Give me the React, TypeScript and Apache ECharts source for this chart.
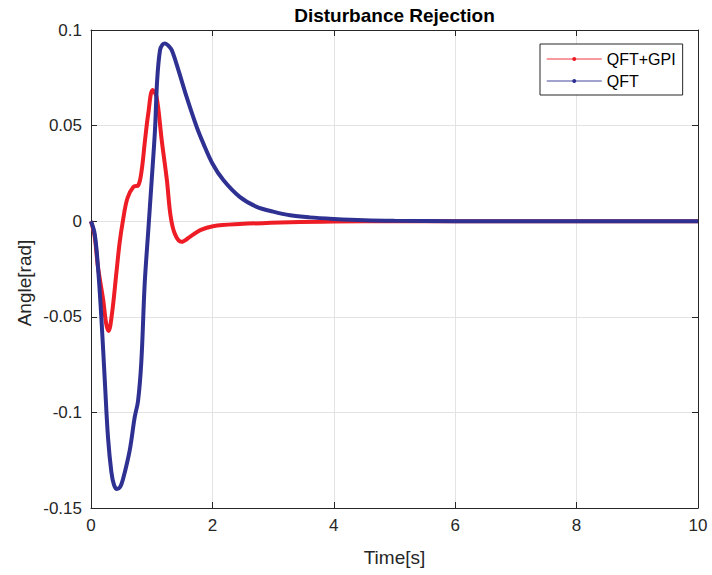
import React, { useEffect, useRef } from "react";
import * as echarts from "echarts";

const timeGPI = [0, 0.06, 0.115, 0.2, 0.25, 0.29, 0.346, 0.417, 0.47, 0.527, 0.6, 0.7, 0.78, 0.835, 0.89, 0.944, 1.015, 1.08, 1.165, 1.25, 1.31, 1.38, 1.49, 1.63, 1.8, 2.01, 2.45, 3.28, 4.0, 5.0, 10.0];
const valGPI = [0, -0.008, -0.024, -0.041, -0.0536, -0.0574, -0.0483, -0.0274, -0.0117, 0.0005, 0.012, 0.018, 0.0188, 0.0267, 0.0424, 0.0564, 0.0686, 0.065, 0.0424, 0.0215, 0.003, -0.0065, -0.0108, -0.0082, -0.0047, -0.0026, -0.0015, -0.0005, -0.0001, 0, 0];

const timeQFT = [0, 0.06, 0.115, 0.17, 0.23, 0.28, 0.335, 0.38, 0.428, 0.48, 0.527, 0.637, 0.72, 0.775, 0.83, 0.884, 0.94, 1.0, 1.054, 1.09, 1.137, 1.18, 1.22, 1.27, 1.33, 1.44, 1.575, 1.74, 1.85, 2.0, 2.18, 2.45, 2.73, 3.0, 3.28, 3.6, 4.0, 4.5, 5.0, 6.0, 10.0];
const valQFT = [0, -0.0065, -0.024, -0.05, -0.085, -0.113, -0.131, -0.138, -0.14, -0.139, -0.135, -0.12, -0.1025, -0.094, -0.073, -0.033, -0.0065, 0.0215, 0.0476, 0.0738, 0.0895, 0.0925, 0.093, 0.092, 0.0895, 0.079, 0.065, 0.0494, 0.0407, 0.0302, 0.0215, 0.0127, 0.0075, 0.005, 0.0031, 0.002, 0.0012, 0.0005, 0.0002, 0, 0];

const xTicks = [0, 2, 4, 6, 8, 10];
const yTicks = [-0.15, -0.1, -0.05, 0, 0.05, 0.1];

const seriesNames = ["QFT+GPI", "QFT"];
const seriesColors = ["#ee1c25", "#2e3192"];

const FONT = "'Liberation Sans', Arial, Helvetica, sans-serif";
const AXIS_COLOR = "#262626";

export default function App() {
  const ref = useRef<HTMLDivElement>(null);
  useEffect(() => {
    if (!ref.current) return;
    const chart = echarts.init(ref.current, undefined, { renderer: "svg" });
    const pair = (ts: number[], vs: number[]) => ts.map((t, i) => [t, vs[i]]);
    const axisCommon = {
      axisLine: { show: true, onZero: false, lineStyle: { color: AXIS_COLOR, width: 1 } },
      axisTick: { show: true, inside: true, length: 6, lineStyle: { color: AXIS_COLOR } },
    };
    chart.setOption({
      animation: false,
      backgroundColor: "#ffffff",
      textStyle: { fontFamily: FONT },
      grid: { left: 91, right: 14, top: 30, bottom: 67, containLabel: false },
      graphic: [
        {
          type: "text",
          x: 394.5,
          y: 15,
          style: {
            text: "Disturbance Rejection",
            fontFamily: FONT,
            fontSize: 19,
            fontWeight: "bold",
            fill: "#000",
            textAlign: "center",
            textVerticalAlign: "middle",
          },
        },
        {
          type: "text",
          x: 24,
          y: 283,
          rotation: Math.PI / 2,
          style: {
            text: "Angle[rad]",
            fontFamily: FONT,
            fontSize: 19,
            fill: AXIS_COLOR,
            textAlign: "center",
            textVerticalAlign: "middle",
          },
        },
      ],
      legend: {
        orient: "vertical",
        left: 540,
        top: 44,
        padding: [7, 7, 6, 6],
        itemWidth: 55,
        itemHeight: 5,
        itemGap: 6,
        backgroundColor: "#ffffff",
        borderColor: AXIS_COLOR,
        borderWidth: 1,
        borderRadius: 0,
        textStyle: { fontFamily: FONT, fontSize: 16, color: "#000" },
        lineStyle: { width: 1.5, opacity: 0.6 },
        data: seriesNames,
      },
      xAxis: [
        {
          type: "value",
          min: xTicks[0],
          max: xTicks[xTicks.length - 1],
          interval: 2,
          position: "bottom",
          ...axisCommon,
          axisLabel: { color: AXIS_COLOR, fontSize: 17, margin: 9, fontFamily: FONT },
          splitLine: { show: true, lineStyle: { color: "#e3e3e3", width: 1 } },
          name: "Time[s]",
          nameLocation: "middle",
          nameGap: 40,
          nameTextStyle: { color: AXIS_COLOR, fontSize: 19, fontFamily: FONT },
        },
        {
          type: "value",
          min: xTicks[0],
          max: xTicks[xTicks.length - 1],
          interval: 2,
          position: "top",
          ...axisCommon,
          axisLabel: { show: false },
          splitLine: { show: false },
        },
      ],
      yAxis: [
        {
          type: "value",
          min: yTicks[0],
          max: yTicks[yTicks.length - 1],
          interval: 0.05,
          position: "left",
          ...axisCommon,
          axisLabel: {
            color: AXIS_COLOR,
            fontSize: 17,
            margin: 9,
            fontFamily: FONT,
            formatter: (v: number) => String(+v.toFixed(2)),
          },
          splitLine: { show: true, lineStyle: { color: "#e3e3e3", width: 1 } },
        },
        {
          type: "value",
          min: yTicks[0],
          max: yTicks[yTicks.length - 1],
          interval: 0.05,
          position: "right",
          ...axisCommon,
          axisLabel: { show: false },
          splitLine: { show: false },
        },
      ],
      series: [
        {
          name: seriesNames[0],
          type: "line",
          data: pair(timeGPI, valGPI),
          smooth: 0.35,
          symbol: "circle",
          symbolSize: 4,
          showSymbol: false,
          color: seriesColors[0],
          lineStyle: { width: 4, color: seriesColors[0] },
          z: 3,
        },
        {
          name: seriesNames[1],
          type: "line",
          data: pair(timeQFT, valQFT),
          smooth: 0.35,
          symbol: "circle",
          symbolSize: 4,
          showSymbol: false,
          color: seriesColors[1],
          lineStyle: { width: 4, color: seriesColors[1] },
          z: 4,
        },
      ],
    });
    return () => chart.dispose();
  }, []);
  return <div ref={ref} style={{ width: 712, height: 575, position: "absolute", left: 0, top: 0 }} />;
}
